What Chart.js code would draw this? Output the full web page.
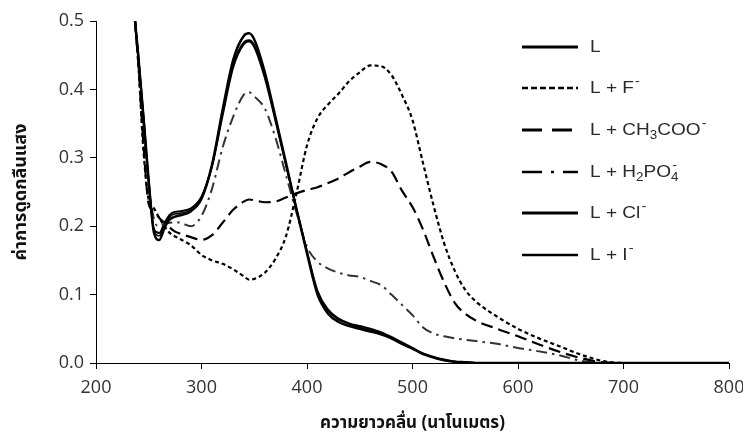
<!DOCTYPE html>
<html>
<head>
<meta charset="utf-8">
<script src="https://cdn.jsdelivr.net/npm/chart.js@4.4.1/dist/chart.umd.min.js"></script>
<style>
  html, body { margin: 0; padding: 0; background: #fff; }
  #wrap { width: 743px; height: 439px; }
</style>
</head>
<body>
<div id="wrap"><canvas id="myChart" width="743" height="439"></canvas></div>
<script>
const wavelengths = [237, 240, 245, 250, 255, 260, 265, 270, 275, 280, 290, 300, 310, 320, 330, 340, 345, 350, 360, 370, 380, 390, 400, 410, 420, 430, 440, 450, 460, 470, 480, 490, 500, 510, 520, 530, 540, 550, 560, 580, 600, 620, 640, 660, 680, 700, 750, 800];

const absL    = [0.50, 0.45, 0.36, 0.265, 0.19, 0.180, 0.198, 0.210, 0.214, 0.216, 0.222, 0.240, 0.290, 0.370, 0.443, 0.478, 0.482, 0.473, 0.425, 0.360, 0.293, 0.225, 0.160, 0.100, 0.072, 0.060, 0.054, 0.050, 0.046, 0.042, 0.036, 0.028, 0.021, 0.013, 0.008, 0.004, 0.002, 0.001, 0, 0, 0, 0, 0, 0, 0, 0, 0, 0];
const absF    = [0.50, 0.44, 0.31, 0.238, 0.226, 0.212, 0.200, 0.190, 0.185, 0.181, 0.172, 0.158, 0.150, 0.145, 0.137, 0.127, 0.122, 0.123, 0.132, 0.152, 0.185, 0.248, 0.318, 0.358, 0.378, 0.394, 0.412, 0.425, 0.435, 0.434, 0.421, 0.392, 0.355, 0.292, 0.230, 0.175, 0.135, 0.107, 0.090, 0.068, 0.050, 0.036, 0.024, 0.012, 0.003, 0, 0, 0];
const absAcO  = [0.50, 0.44, 0.32, 0.232, 0.222, 0.212, 0.205, 0.198, 0.192, 0.189, 0.184, 0.180, 0.187, 0.205, 0.224, 0.236, 0.239, 0.238, 0.235, 0.236, 0.242, 0.248, 0.253, 0.257, 0.263, 0.270, 0.279, 0.287, 0.294, 0.291, 0.280, 0.252, 0.228, 0.195, 0.155, 0.118, 0.088, 0.072, 0.062, 0.050, 0.039, 0.027, 0.016, 0.007, 0.001, 0, 0, 0];
const absH2PO4 = [0.50, 0.45, 0.35, 0.26, 0.21, 0.200, 0.204, 0.205, 0.206, 0.205, 0.200, 0.215, 0.255, 0.315, 0.360, 0.392, 0.396, 0.390, 0.372, 0.330, 0.275, 0.220, 0.170, 0.148, 0.138, 0.132, 0.128, 0.126, 0.120, 0.114, 0.100, 0.085, 0.070, 0.052, 0.043, 0.039, 0.036, 0.034, 0.032, 0.028, 0.022, 0.017, 0.011, 0.003, 0, 0, 0, 0];
const absCl   = [0.50, 0.45, 0.36, 0.265, 0.195, 0.190, 0.205, 0.217, 0.221, 0.222, 0.226, 0.243, 0.288, 0.362, 0.432, 0.466, 0.470, 0.462, 0.417, 0.355, 0.290, 0.225, 0.163, 0.105, 0.078, 0.065, 0.058, 0.054, 0.050, 0.045, 0.038, 0.030, 0.022, 0.014, 0.009, 0.005, 0.002, 0.001, 0, 0, 0, 0, 0, 0, 0, 0, 0, 0];
const absI    = [0.50, 0.45, 0.36, 0.265, 0.193, 0.186, 0.202, 0.214, 0.218, 0.219, 0.224, 0.241, 0.289, 0.365, 0.436, 0.469, 0.472, 0.465, 0.420, 0.357, 0.291, 0.225, 0.162, 0.103, 0.076, 0.063, 0.057, 0.052, 0.048, 0.044, 0.037, 0.029, 0.021, 0.014, 0.008, 0.004, 0.002, 0.001, 0, 0, 0, 0, 0, 0, 0, 0, 0, 0];

const xTicks = [200, 300, 400, 500, 600, 700, 800];
const yTicks = [0.0, 0.1, 0.2, 0.3, 0.4, 0.5];

// legend rows: [text, normal/sub/sup]
const legendItems = [
  { parts: [['L', 'n']], dash: [], width: 3 },
  { parts: [['L + F', 'n'], ['-', 'sup']], dash: [6, 3], width: 2.5 },
  { parts: [['L + CH', 'n'], ['3', 'sub'], ['COO', 'n'], ['-', 'sup']], dash: [20, 10], width: 3 },
  { parts: [['L + H', 'n'], ['2', 'sub'], ['PO', 'n'], ['4', 'sub'], ['-', 'supx']], dash: [20, 9, 3, 9], width: 2.5 },
  { parts: [['L + Cl', 'n'], ['-', 'sup']], dash: [], width: 3 },
  { parts: [['L + I', 'n'], ['-', 'sup']], dash: [], width: 2.5 }
];

function pts(vals) {
  return wavelengths.map((w, i) => ({ x: w, y: vals[i] }));
}

function ds(label, vals, dash, width, color) {
  return {
    label: label,
    data: pts(vals),
    borderColor: color || '#000',
    borderWidth: width,
    borderDash: dash,
    pointRadius: 0,
    fill: false,
    cubicInterpolationMode: 'monotone'
  };
}

const legendPlugin = {
  id: 'sideLegend',
  afterDraw(chart) {
    const ctx = chart.ctx;
    const rowY = [47, 88, 130, 172, 213, 255];
    ctx.save();
    legendItems.forEach((it, i) => {
      const y = rowY[i];
      ctx.beginPath();
      ctx.setLineDash(it.dash);
      ctx.lineWidth = it.width;
      ctx.strokeStyle = '#000';
      ctx.moveTo(522, y);
      ctx.lineTo(578, y);
      ctx.stroke();
      ctx.setLineDash([]);
      // text is a bit wide in the original, stretch it horizontally
      ctx.save();
      ctx.translate(590, y);
      ctx.scale(1.12, 1);
      let x = 0;
      ctx.fillStyle = '#2a2a2a';
      ctx.textBaseline = 'middle';
      let lastSubX = 0;
      it.parts.forEach(([t, kind]) => {
        if (kind === 'n') {
          ctx.font = '17px "Liberation Sans", Arial, sans-serif';
          ctx.fillText(t, x, 0);
          x += ctx.measureText(t).width;
        } else if (kind === 'sub') {
          ctx.font = '12px "Liberation Sans", Arial, sans-serif';
          ctx.fillText(t, x, 6);
          lastSubX = x;
          x += ctx.measureText(t).width;
        } else {
          ctx.font = '13px "Liberation Sans", Arial, sans-serif';
          const sx = kind === 'supx' ? lastSubX : x;
          ctx.fillText(t, sx + 1, -7);
          if (kind === 'sup') x += ctx.measureText(t).width;
        }
      });
      ctx.restore();
    });
    ctx.restore();
  }
};

const ctx = document.getElementById('myChart').getContext('2d');
new Chart(ctx, {
  type: 'line',
  data: {
    datasets: [
      ds('L', absL, [], 2.5),
      ds('L + F-', absF, [4, 3], 2.2),
      ds('L + CH3COO-', absAcO, [12, 6], 2.2),
      ds('L + H2PO4-', absH2PO4, [11, 5, 2.5, 5], 2, '#333'),
      ds('L + Cl-', absCl, [], 2),
      ds('L + I-', absI, [], 1.6)
    ]
  },
  options: {
    responsive: false,
    animation: false,
    layout: { padding: { top: 21, right: 14, left: 0, bottom: 0 } },
    plugins: {
      legend: { display: false },
      tooltip: { enabled: false }
    },
    scales: {
      x: {
        type: 'linear',
        min: 200,
        max: 800,
        afterFit(scale) {
          scale.height = 76;
          scale.paddingRight = 0;
          scale.paddingLeft = 0;
        },
        afterBuildTicks(scale) { scale.ticks = xTicks.map(v => ({ value: v })); },
        grid: { drawOnChartArea: false, drawTicks: true, tickLength: 6, color: '#000' },
        border: { display: true, color: '#000', width: 1 },
        ticks: { color: '#333', font: { family: '"Open Sans", sans-serif', size: 18 }, padding: 8, maxRotation: 0 },
        title: {
          display: true,
          text: 'ความยาวคลื่น (นาโนเมตร)',
          color: '#111',
          font: { family: '"Noto Sans Thai", "Noto Sans", "DejaVu Sans", sans-serif', size: 17, weight: 'bold' },
          padding: { top: 4 }
        }
      },
      y: {
        min: 0,
        max: 0.5,
        afterFit(scale) { scale.width = 96; },
        afterBuildTicks(scale) { scale.ticks = yTicks.map(v => ({ value: v })); },
        grid: { drawOnChartArea: false, drawTicks: true, tickLength: 6, color: '#000' },
        border: { display: true, color: '#000', width: 1 },
        ticks: {
          color: '#333',
          font: { family: '"Open Sans", sans-serif', size: 18 },
          padding: 6,
          callback: v => v.toFixed(1)
        },
        title: {
          display: true,
          text: 'ค่าการดูดกลืนแสง',
          color: '#111',
          font: { family: '"Noto Sans Thai", "Noto Sans", "DejaVu Sans", sans-serif', size: 18, weight: 'bold' },
          padding: { top: 12, bottom: 0 }
        }
      }
    }
  },
  plugins: [legendPlugin]
});
</script>
</body>
</html>
